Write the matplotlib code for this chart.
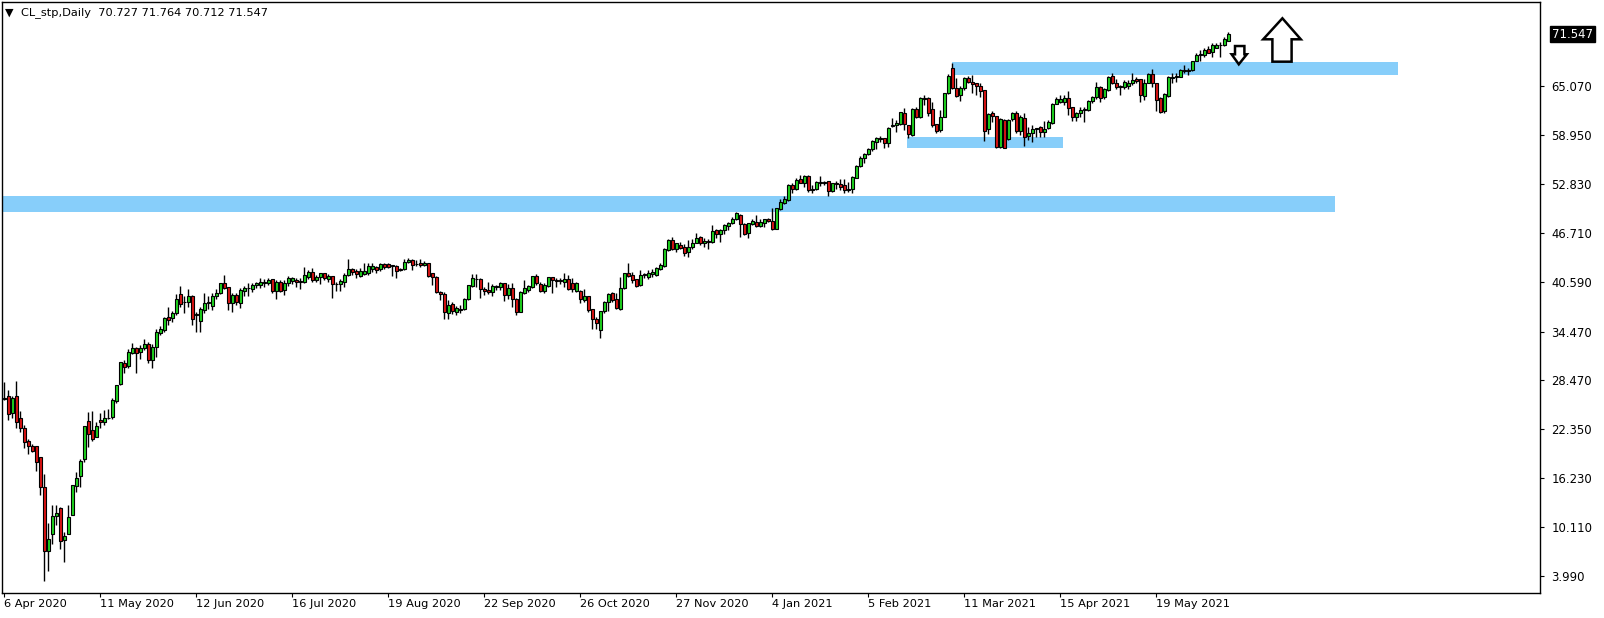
import numpy as np
import matplotlib
matplotlib.use("Agg")
import matplotlib.pyplot as plt
from matplotlib.patches import Polygon, Rectangle

# daily candles, CL_stp, 6 Apr 2020 .. mid Jun 2021
opens = [
    26.0, 26.43, 24.27, 26.43, 23.65, 22.5, 20.82, 20.2, 20.2, 18.78,
    15.05, 7.06, 9.18, 11.5, 12.42, 8.52, 9.27, 11.63, 15.25, 16.5,
    18.58, 23.27, 22.15, 21.36, 23.44, 23.23, 23.65, 23.85, 25.85, 27.89,
    30.5, 30.22, 31.84, 32.42, 31.92, 32.46, 32.88, 30.92, 32.59, 34.25,
    34.67, 36.33, 36.12, 36.75, 39.15, 38.1, 38.2, 38.9, 36.5, 35.83,
    37.16, 38.0, 37.7, 38.9, 39.24, 40.48, 39.99, 37.99, 39.03, 37.99,
    39.57, 39.86, 39.74, 40.24, 40.24, 40.48, 40.48, 40.98, 39.57, 40.6,
    39.65, 40.56, 40.77, 40.9, 40.7, 40.69, 41.31, 41.85, 40.9, 41.23,
    41.73, 41.06, 41.4, 40.36, 40.36, 40.69, 41.52, 42.23, 42.02, 41.4,
    41.65, 41.73, 42.23, 42.48, 42.23, 42.89, 42.89, 42.65, 42.69, 42.2,
    42.23, 43.18, 43.39, 42.85, 42.98, 42.77, 43.06, 41.73, 41.23, 39.44,
    39.15, 36.75, 37.9, 36.95, 37.2, 37.28, 38.49, 40.19, 41.0, 40.98,
    39.73, 39.6, 39.44, 40.06, 39.98, 40.56, 39.02, 39.86, 38.53, 36.95,
    39.32, 39.65, 40.06, 41.4, 40.4, 39.57, 40.19, 41.23, 40.9, 40.8,
    40.69, 40.98, 40.56, 39.52, 39.57, 38.4, 38.9, 37.28, 35.99, 34.66,
    37.03, 38.2, 39.23, 38.53, 37.28, 39.86, 41.81, 41.52, 40.98, 40.27,
    41.5, 41.31, 41.6, 41.52, 42.23, 42.69, 44.64, 45.88, 44.76, 45.26,
    45.05, 44.35, 44.97, 45.55, 46.22, 45.55, 45.8, 45.68, 47.13, 46.64,
    47.13, 47.68, 47.97, 48.5, 49.0, 47.88, 46.72, 47.88, 48.13, 47.68,
    47.97, 48.46, 48.3, 47.26, 49.8, 50.46, 50.88, 52.75, 52.2, 53.5,
    52.95, 53.87, 52.12, 52.2, 53.0, 53.08, 53.2, 52.04, 52.95, 52.87,
    52.75, 52.12, 52.2, 53.58, 55.12, 56.08, 56.58, 57.2, 58.15, 58.65,
    58.65, 58.03, 60.1, 60.23, 60.35, 61.77, 60.23, 58.98, 62.2, 61.27,
    63.5, 63.55, 62.18, 60.35, 59.6, 61.27, 64.18, 67.3, 64.8, 63.97,
    64.8, 66.05, 65.63, 65.42, 65.09, 64.6, 59.69, 61.77, 61.35, 57.44,
    60.85, 58.43, 60.93, 61.76, 59.52, 61.05, 58.89, 59.26, 59.68, 59.93,
    59.4, 59.81, 60.52, 62.84, 63.05, 63.14, 63.55, 62.51, 61.18, 61.76,
    62.05, 62.1, 63.22, 63.68, 65.0, 63.68, 64.59, 66.34, 65.42, 64.95,
    65.0, 65.1, 65.5, 65.92, 65.92, 63.84, 65.5, 66.58, 65.42, 63.55,
    62.01, 63.88, 66.1, 66.2, 66.25, 66.92, 66.92, 67.08, 68.2, 68.95,
    68.95, 69.66, 69.28, 69.87, 70.15, 70.2, 70.727,
]
highs = [
    28.2, 27.2, 26.43, 28.3, 24.56, 22.77, 21.03, 20.5, 20.2, 18.78,
    16.7, 10.55, 12.84, 12.84, 12.6, 9.43, 12.84, 15.3, 16.9, 18.58,
    22.65, 24.48, 24.56, 23.23, 24.27, 24.69, 24.77, 26.14, 27.76, 30.71,
    30.92, 32.3, 33.0, 32.5, 32.8, 33.5, 33.17, 32.92, 34.79, 35.16,
    36.33, 37.49, 37.08, 39.15, 40.15, 38.9, 39.74, 39.0, 36.95, 37.49,
    39.32, 38.9, 39.32, 39.74, 40.56, 41.52, 40.0, 39.32, 39.32, 39.94,
    40.15, 40.57, 40.48, 40.65, 41.1, 41.02, 41.1, 41.0, 40.9, 40.9,
    40.9, 41.4, 41.31, 41.1, 41.1, 42.48, 42.14, 42.35, 41.52, 41.81,
    41.81, 41.65, 41.4, 40.69, 41.02, 41.81, 43.47, 42.35, 42.27, 42.35,
    42.98, 42.98, 42.98, 42.64, 43.06, 43.06, 43.06, 42.77, 42.81, 42.4,
    43.47, 43.6, 43.47, 43.39, 43.47, 43.3, 43.06, 41.81, 41.4, 39.57,
    39.44, 38.4, 38.2, 37.65, 37.78, 38.61, 40.27, 41.6, 41.65, 41.1,
    40.06, 40.6, 40.35, 40.27, 40.69, 40.56, 40.4, 40.48, 38.61, 39.52,
    40.9, 40.27, 41.4, 41.6, 40.69, 40.56, 41.31, 41.31, 41.18, 41.1,
    41.81, 41.52, 41.1, 40.69, 39.65, 39.73, 38.9, 37.28, 36.24, 37.03,
    38.28, 39.32, 39.44, 39.23, 41.31, 41.81, 43.06, 41.94, 40.98, 42.14,
    41.81, 42.14, 42.23, 42.48, 42.98, 44.85, 45.97, 46.22, 45.55, 45.68,
    45.35, 45.89, 45.97, 46.72, 46.39, 46.1, 45.97, 47.76, 47.26, 47.26,
    47.89, 48.13, 48.71, 49.42, 49.09, 48.05, 48.05, 48.5, 49.0, 48.46,
    48.5, 48.67, 49.84, 49.92, 50.96, 51.37, 52.83, 52.95, 53.58, 54.0,
    54.0, 54.0, 52.75, 53.29, 53.87, 53.25, 53.2, 53.04, 53.29, 53.45,
    53.45, 53.16, 53.87, 55.24, 56.37, 56.79, 57.32, 58.36, 58.77, 58.86,
    58.65, 59.94, 61.06, 60.85, 61.85, 62.31, 60.23, 62.31, 62.51, 63.76,
    63.97, 63.68, 63.14, 60.35, 62.1, 64.18, 66.59, 68.0, 66.05, 65.09,
    66.26, 66.34, 66.46, 65.5, 65.42, 64.6, 61.77, 62.01, 61.35, 61.1,
    60.93, 60.93, 61.89, 62.01, 61.47, 61.76, 60.02, 60.23, 59.89, 60.1,
    60.72, 60.85, 62.93, 63.68, 63.97, 63.97, 64.46, 62.51, 61.89, 62.51,
    62.51, 63.34, 63.84, 65.63, 65.1, 64.8, 66.34, 66.75, 65.9, 65.2,
    65.83, 65.83, 66.75, 66.2, 65.92, 66.0, 66.66, 67.16, 65.5, 63.68,
    64.17, 66.34, 66.66, 66.66, 67.16, 67.7, 67.3, 68.25, 69.24, 69.57,
    69.78, 70.07, 70.4, 70.4, 70.6, 71.16, 71.764,
]
lows = [
    25.9, 23.4, 23.65, 22.5, 21.98, 19.9, 19.16, 19.4, 17.1, 14.13,
    3.4, 4.57, 7.94, 10.35, 7.4, 5.77, 9.27, 11.6, 14.5, 15.13,
    18.25, 20.1, 20.78, 21.36, 22.4, 22.82, 23.52, 23.52, 25.5, 27.8,
    29.34, 29.9, 31.63, 29.26, 31.1, 32.17, 30.59, 29.97, 31.34, 34.04,
    34.46, 35.29, 35.7, 36.54, 37.58, 36.83, 37.49, 35.29, 34.37, 34.46,
    36.75, 37.28, 37.16, 38.49, 39.15, 39.74, 37.16, 36.95, 37.79, 37.45,
    38.9, 38.9, 39.44, 39.94, 39.94, 39.99, 40.28, 39.32, 38.57, 39.44,
    39.03, 40.15, 40.4, 40.07, 39.74, 40.56, 40.98, 40.6, 40.6, 40.4,
    40.9, 40.69, 38.7, 39.57, 39.57, 40.07, 41.4, 41.52, 41.1, 41.31,
    41.52, 41.52, 41.94, 41.73, 42.06, 42.23, 42.35, 41.44, 41.19, 42.06,
    42.14, 43.06, 42.14, 42.64, 42.56, 42.64, 41.31, 40.27, 39.23, 38.4,
    36.03, 36.03, 36.66, 36.53, 36.83, 37.16, 38.4, 40.07, 40.07, 38.69,
    39.03, 39.15, 38.94, 39.65, 39.65, 38.32, 38.49, 37.57, 36.53, 36.95,
    39.15, 39.44, 39.86, 40.27, 39.44, 39.32, 40.06, 39.32, 40.06, 40.4,
    40.06, 39.65, 39.44, 39.44, 38.07, 38.2, 36.95, 34.79, 34.75, 33.62,
    36.74, 37.03, 38.2, 37.28, 37.16, 39.73, 41.31, 40.56, 40.06, 40.15,
    41.1, 40.98, 41.23, 41.4, 42.14, 42.56, 44.55, 44.64, 44.43, 44.76,
    43.89, 43.81, 44.8, 45.47, 45.26, 45.05, 44.72, 45.55, 46.1, 45.68,
    46.59, 47.13, 47.88, 48.38, 46.22, 46.51, 46.1, 47.76, 47.47, 47.55,
    47.55, 48.17, 47.13, 47.26, 49.63, 50.38, 50.8, 51.7, 52.12, 52.95,
    52.54, 51.92, 51.79, 52.12, 52.62, 52.75, 51.38, 51.92, 52.2, 52.12,
    51.79, 51.92, 51.7, 53.58, 55.04, 55.45, 56.5, 57.03, 57.2, 58.15,
    57.32, 57.45, 59.94, 59.4, 60.23, 59.6, 58.65, 58.86, 61.06, 61.06,
    62.73, 61.35, 60.02, 59.27, 59.4, 61.18, 64.1, 64.68, 63.68, 63.26,
    64.6, 65.5, 64.26, 63.97, 63.68, 58.28, 59.06, 60.64, 57.32, 57.32,
    57.32, 58.35, 60.77, 59.2, 58.98, 57.6, 58.35, 58.15, 58.69, 58.77,
    58.77, 59.68, 60.35, 62.8, 62.93, 62.72, 61.47, 60.77, 60.77, 61.18,
    60.64, 62.01, 63.0, 63.43, 63.14, 63.43, 64.5, 65.3, 64.67, 64.0,
    64.67, 64.67, 65.2, 65.4, 63.14, 63.34, 65.42, 65.0, 62.01, 61.76,
    61.68, 63.76, 65.5, 65.63, 66.17, 66.66, 66.5, 67.0, 68.2, 68.25,
    68.66, 69.16, 68.66, 69.78, 68.75, 70.07, 70.712,
]
closes = [
    26.2, 24.14, 26.14, 23.15, 22.4, 20.65, 20.2, 19.6, 18.2, 15.13,
    7.15, 8.56, 11.47, 11.9, 8.39, 9.02, 11.3, 15.29, 16.16, 18.33,
    22.65, 21.65, 21.1, 22.65, 23.15, 23.65, 23.75, 25.93, 27.76, 30.63,
    30.09, 31.88, 32.42, 31.84, 32.42, 32.88, 30.92, 32.59, 34.46, 34.79,
    36.12, 35.91, 36.83, 38.49, 37.87, 38.2, 38.9, 35.99, 36.7, 37.24,
    37.99, 38.2, 38.9, 39.32, 40.48, 39.86, 37.99, 39.03, 38.12, 39.65,
    39.86, 39.94, 40.28, 40.48, 40.61, 40.65, 40.9, 39.57, 40.6, 39.57,
    40.56, 41.1, 41.1, 40.6, 40.77, 41.52, 41.85, 40.9, 41.31, 41.73,
    41.1, 41.4, 40.36, 40.44, 40.77, 41.52, 42.23, 41.94, 41.6, 42.02,
    42.02, 42.64, 42.64, 42.14, 42.89, 42.48, 42.56, 42.72, 42.06, 42.23,
    43.18, 43.39, 42.81, 42.89, 42.77, 43.0, 41.44, 41.23, 39.36, 39.15,
    36.87, 37.78, 37.03, 37.36, 37.3, 38.49, 40.27, 41.1, 40.98, 39.73,
    39.52, 39.44, 40.15, 40.1, 40.56, 39.02, 39.86, 38.49, 36.95, 39.36,
    39.86, 40.15, 41.4, 40.56, 39.57, 40.27, 41.23, 40.9, 40.8, 40.85,
    40.98, 39.77, 39.77, 40.56, 38.49, 38.9, 37.16, 35.99, 35.58, 37.03,
    38.2, 39.15, 38.4, 37.45, 39.86, 41.81, 41.4, 40.9, 40.15, 41.52,
    41.6, 41.81, 41.94, 42.35, 42.77, 44.72, 45.88, 44.76, 45.47, 44.85,
    44.3, 45.05, 45.55, 46.1, 45.55, 45.8, 45.6, 47.01, 46.59, 47.13,
    47.72, 48.05, 48.5, 49.3, 47.88, 46.64, 48.05, 48.3, 47.63, 48.17,
    48.46, 48.3, 47.26, 49.84, 50.6, 50.96, 52.75, 52.2, 53.37, 52.95,
    53.87, 52.12, 52.2, 53.08, 53.12, 53.0, 52.04, 52.95, 52.87, 52.54,
    52.12, 52.2, 53.79, 55.12, 56.16, 56.62, 57.24, 58.23, 58.65, 58.44,
    57.95, 59.81, 60.2, 60.44, 61.85, 60.35, 59.06, 62.23, 61.27, 63.55,
    63.6, 61.69, 60.23, 59.52, 61.27, 64.18, 66.34, 64.8, 63.84, 64.8,
    66.05, 65.63, 65.3, 65.09, 64.51, 59.52, 61.6, 61.35, 57.45, 60.93,
    57.32, 60.85, 61.76, 59.52, 61.26, 58.77, 59.26, 59.68, 59.89, 59.4,
    59.68, 60.64, 62.8, 63.47, 63.43, 63.63, 62.3, 61.18, 61.68, 62.1,
    62.18, 63.22, 63.68, 65.0, 63.55, 64.67, 66.25, 65.42, 65.0, 65.0,
    65.54, 65.5, 65.83, 65.75, 63.97, 65.5, 66.58, 65.42, 63.34, 61.88,
    64.09, 66.17, 66.2, 66.3, 67.08, 67.08, 67.1, 68.2, 68.95, 69.1,
    69.57, 69.24, 70.2, 70.2, 70.2, 70.9, 71.547,
]

date_labels = ["6 Apr 2020", "11 May 2020", "12 Jun 2020", "16 Jul 2020",
               "19 Aug 2020", "22 Sep 2020", "26 Oct 2020", "27 Nov 2020",
               "4 Jan 2021", "5 Feb 2021", "11 Mar 2021", "15 Apr 2021",
               "19 May 2021"]
date_bars = [0, 24, 48, 72, 96, 120, 144, 168, 192, 216, 240, 264, 288]
price_ticks = [65.070, 58.950, 52.830, 46.710, 40.590, 34.470, 28.470,
               22.350, 16.230, 10.110, 3.990]

# drawn zones: (first bar, last bar, low price, high price)
zones = [(-2, 332.75, 49.38, 51.37),
         (225.75, 264.7, 57.39, 58.73),
         (237.0, 348.5, 66.46, 68.08)]
# hand drawn arrows (bar, price)
arrow_up = [(319.6, 73.53), (324.2, 70.91), (321.9, 70.91), (321.9, 68.12),
            (317.1, 68.12), (317.1, 70.91), (314.8, 70.91)]
arrow_down = [(307.75, 70.07), (310.1, 70.07), (310.1, 69.04), (310.7, 69.04),
              (308.7, 67.79), (306.9, 69.04), (307.75, 69.04)]

o = np.array(opens)
h = np.array(highs)
l = np.array(lows)
c = np.array(closes)
x = np.arange(len(c))

W, H = 1604, 618
fig = plt.figure(figsize=(W / 100, H / 100), dpi=100)
ax = fig.add_axes([2 / W, 25 / H, 1538 / W, 591 / H])
ax.set_xlim(-0.5, 384)
ax.set_ylim(1.87, 75.56)

for x0, x1, y0, y1 in zones:
    ax.add_patch(Rectangle((x0, y0), x1 - x0, y1 - y0, facecolor="#87cefa",
                           edgecolor="none", zorder=1))

ax.vlines(x, l, h, color="black", linewidth=1, zorder=2)
up = c >= o
cols = np.where(up, "#1ed41e", "#dc1414")
bottom = np.minimum(o, c)
height = np.maximum(np.abs(c - o), 0.08)
ax.bar(x, height, 0.75, bottom=bottom, color=cols, edgecolor="black",
       linewidth=0.8, zorder=3)

for pts in (arrow_up, arrow_down):
    ax.add_patch(Polygon(pts, closed=True, facecolor="white", edgecolor="black",
                         linewidth=1.8, joinstyle="miter", zorder=4))

for s in ax.spines.values():
    s.set_color("black")
    s.set_linewidth(1)

ax.yaxis.tick_right()
ax.set_yticks(price_ticks)
ax.set_yticklabels([f"{v:.3f}" for v in price_ticks])
ax.tick_params(axis="y", direction="out", length=3, pad=5.2, labelsize=8.4,
               width=0.8)
ax.set_xticks(date_bars)
ax.set_xticklabels(date_labels, ha="left")
ax.tick_params(axis="x", direction="out", length=3, pad=1.5, labelsize=8.2,
               width=0.8)

# current price tag
ax.annotate(f"{c[-1]:.3f}", xy=(1, c[-1]), xycoords=ax.get_yaxis_transform(),
            xytext=(8.8, 0), textcoords="offset points", ha="left", va="center",
            fontsize=8.4, color="white",
            bbox=dict(boxstyle="square,pad=0.15", facecolor="black",
                      edgecolor="black"))

fig.text(9.5 / W, 1 - 12.5 / H, "\u25bc", fontsize=8, ha="center", va="center")
fig.text(21 / W, 1 - 12.5 / H,
         f"CL_stp,Daily  {o[-1]:.3f} {h[-1]:.3f} {l[-1]:.3f} {c[-1]:.3f}",
         fontsize=8.2, ha="left", va="center")

fig.savefig("out.png", dpi=100)
